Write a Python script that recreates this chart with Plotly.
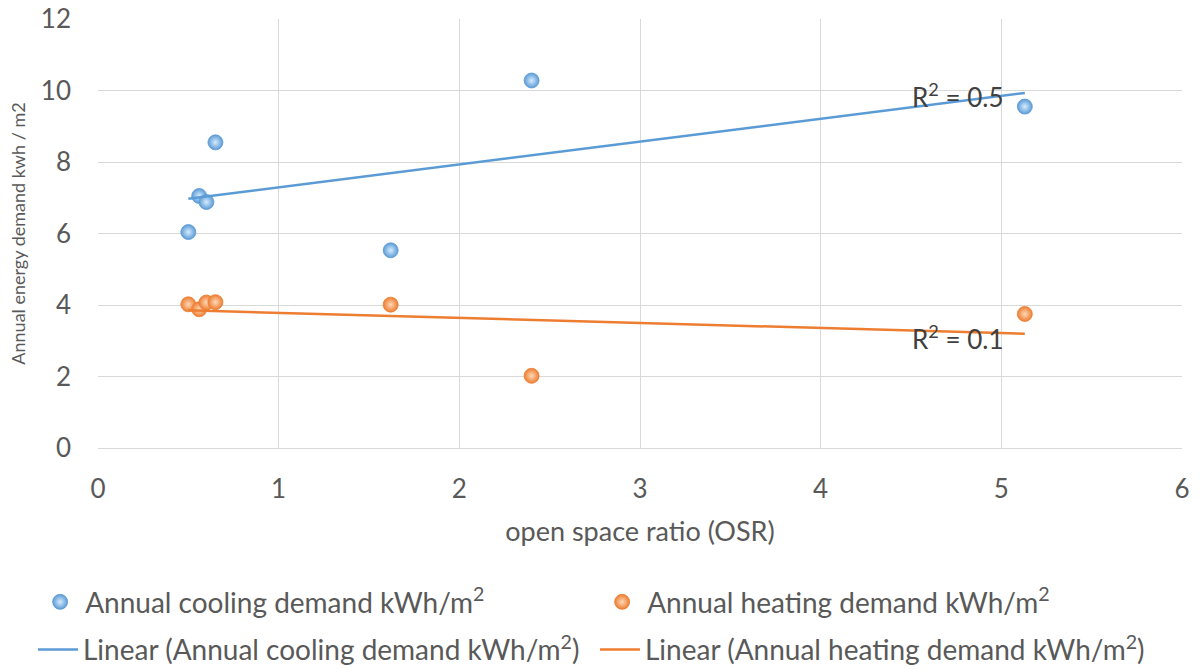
import numpy as np
import plotly.graph_objects as go

# Open space ratio of each case
osr = [0.50, 0.56, 0.60, 0.65, 1.62, 2.40, 5.13]
# Annual demand per case, kWh/m2
cooling = [6.04, 7.05, 6.88, 8.55, 5.53, 10.28, 9.55]
heating = [4.02, 3.88, 4.07, 4.08, 4.01, 2.02, 3.75]

x_ticks = [0, 1, 2, 3, 4, 5, 6]
y_ticks = [0, 2, 4, 6, 8, 10, 12]

COOL = "#5B9BD5"
HEAT = "#ED7D31"
FONT = "Lato"
TXT = "#595959"


def linear_fit(x, y):
    slope, intercept = np.polyfit(x, y, 1)
    xs = np.array([min(x), max(x)])
    return xs, slope * xs + intercept


fig = go.Figure()

for name, ys, col, hi in [("Annual cooling demand kWh/m<sup>2</sup>", cooling, COOL, "#D6EBFF"),
                          ("Annual heating demand kWh/m<sup>2</sup>", heating, HEAT, "#FFD9B8")]:
    fig.add_trace(go.Scatter(
        x=osr, y=ys, mode="markers", name=name, legend="legend",
        marker=dict(size=15, color=col,
                    gradient=dict(type="radial", color=hi),
                    line=dict(width=0.8, color=col)),
    ))

for name, ys, col in [("Linear (Annual cooling demand kWh/m<sup>2</sup>)", cooling, COOL),
                      ("Linear (Annual heating demand kWh/m<sup>2</sup>)", heating, HEAT)]:
    xs, yl = linear_fit(osr, ys)
    fig.add_trace(go.Scatter(
        x=xs, y=yl, mode="lines", name=name, legend="legend2",
        line=dict(color=col, width=2.5),
    ))

# R-squared labels beside the trendlines
fig.add_annotation(x=4.76, y=9.87, text="R<sup>2</sup> = 0.5", showarrow=False,
                   font=dict(family=FONT, size=26, color="#404040"))
fig.add_annotation(x=4.76, y=3.1, text="R<sup>2</sup> = 0.1", showarrow=False,
                   font=dict(family=FONT, size=26, color="#404040"))

legend_style = dict(orientation="h", xanchor="left", yanchor="top",
                    entrywidth=507, font=dict(family=FONT, size=28, color=TXT),
                    bgcolor="rgba(0,0,0,0)", borderwidth=0, tracegroupgap=0,
                    itemwidth=40)

fig.update_layout(
    width=1200, height=669,
    margin=dict(l=98, r=18, t=19, b=221, autoexpand=False),
    paper_bgcolor="white", plot_bgcolor="white",
    font=dict(family=FONT, size=24, color=TXT),
    xaxis=dict(
        range=[0, 6], tickvals=x_ticks, showgrid=True, gridcolor="#D9D9D9", gridwidth=1.3,
        zeroline=False, showline=True, linecolor="#D9D9D9", linewidth=1.3,
        ticks="", ticklabelstandoff=18,
        tickfont=dict(family=FONT, size=26, color=TXT),
        title=dict(text="open space ratio (OSR)", standoff=18,
                   font=dict(family=FONT, size=27, color=TXT)),
    ),
    yaxis=dict(
        range=[0, 12], tickvals=y_ticks, showgrid=True, gridcolor="#D9D9D9", gridwidth=1.3,
        zeroline=False, showline=False,
        ticks="", ticklabelstandoff=26,
        tickfont=dict(family=FONT, size=26, color=TXT),
        title=dict(text="Annual energy demand kwh / m2", standoff=10,
                   font=dict(family=FONT, size=18, color=TXT)),
    ),
    legend=dict(x=-0.058, y=-0.301, **legend_style),
    legend2=dict(x=-0.06, y=-0.412, **legend_style),
    showlegend=True,
)

fig.write_html("out.html")
